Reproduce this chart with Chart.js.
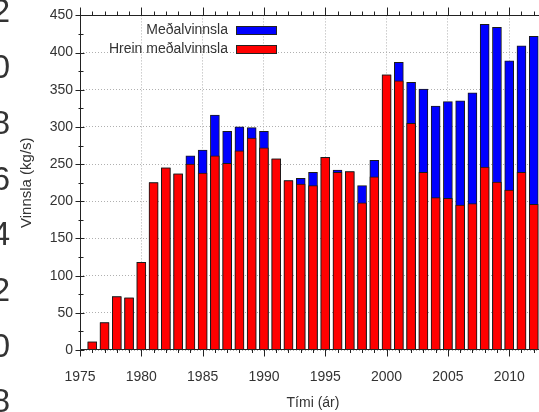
<!DOCTYPE html>
<html>
<head>
<meta charset="utf-8">
<script src="https://cdn.jsdelivr.net/npm/chart.js@4.4.1/dist/chart.umd.min.js"></script>
<style>
  html, body { margin: 0; padding: 0; background: #fff; overflow: hidden; width: 539px; height: 412px; }
  #wrap { position: absolute; left: 0; top: 0; width: 556px; height: 412px; }
  #side { position: absolute; left: 0; top: 0; width: 20px; height: 412px; overflow: hidden; }
  .side-label { position: absolute; left: -90px; width: 100px; text-align: right;
    font: 33px/33px "Liberation Sans", Arial, sans-serif; color: #333; }
</style>
</head>
<body>
<div id="wrap"><canvas id="c" width="556" height="412"></canvas></div>
<div id="side"></div>
<script>
// Years with production data
const years = [1976, 1977, 1978, 1979, 1980, 1981, 1982, 1983, 1984, 1985,
               1986, 1987, 1988, 1989, 1990, 1991, 1992, 1993, 1994, 1995,
               1996, 1997, 1998, 1999, 2000, 2001, 2002, 2003, 2004, 2005,
               2006, 2007, 2008, 2009, 2010, 2011, 2012];

// Meðalvinnsla (kg/s)
const totalFlow = [11, 37, 72, 70, 118, 225, 245, 237, 261, 269,
                   316, 294, 300, 299, 294, 257, 228, 231, 239, 259,
                   242, 240, 221, 255, 370, 387, 360, 351, 328, 334,
                   335, 346, 438, 434, 389, 409, 422];

// Hrein meðalvinnsla (kg/s)
const netFlow = [11, 37, 72, 70, 118, 225, 245, 237, 250, 238,
                 261, 251, 268, 285, 272, 257, 228, 223, 221, 259,
                 239, 240, 198, 233, 370, 362, 305, 239, 205, 204,
                 195, 197, 246, 226, 215, 239, 196];

const seriesNames = ['Meðalvinnsla', 'Hrein meðalvinnsla'];
const xTitle = 'Tími (ár)';
const yTitle = 'Vinnsla (kg/s)';

// Labels of the neighbouring panel's axis, clipped at the left edge
const sideLabels = ['22', '20', '18', '16', '14', '12', '10', '8'];

const FONT = '"Liberation Sans", Arial, Helvetica, sans-serif';
const TEXT = '#333';

const side = document.getElementById('side');
sideLabels.forEach((t, i) => {
  const d = document.createElement('div');
  d.className = 'side-label';
  d.textContent = t;
  d.style.top = (10 + i * 55.7 - 15.6) + 'px';
  side.appendChild(d);
});

// Axis frame, tick marks on every side and the legend
const framePlugin = {
  id: 'frameTicksLegend',
  afterDatasetsDraw(chart) {
    const { ctx, chartArea: a, scales } = chart;
    const L = Math.floor(a.left) + 0.5, R = Math.round(a.right) + 0.5;
    const T = Math.round(a.top) + 0.5, B = Math.round(a.bottom) - 0.5;
    ctx.save();
    ctx.strokeStyle = '#222';
    ctx.lineWidth = 1;
    ctx.beginPath();
    ctx.rect(L, T, R - L, B - T);
    // x ticks: major every 5 years, minor each year
    for (let yr = 1975; yr <= 2013; yr++) {
      const px = Math.round(scales.x.getPixelForValue(yr)) + 0.5;
      const major = yr % 5 === 0;
      const lb = major ? 7 : 3.5, lt = major ? 8 : 4;
      ctx.moveTo(px, B); ctx.lineTo(px, B + lb);
      ctx.moveTo(px, T); ctx.lineTo(px, T - lt);
    }
    // y ticks: major every 50, minor every 25
    for (let v = 0; v <= 450; v += 25) {
      const py = Math.round(scales.y.getPixelForValue(v)) + 0.5;
      const major = v % 50 === 0;
      const out = major ? 5 : 2, inn = major ? 4 : 3;
      ctx.moveTo(L - out, py); ctx.lineTo(L + inn, py);
      ctx.moveTo(R + out, py); ctx.lineTo(R - inn, py);
    }
    ctx.stroke();

    // legend: right-aligned text with a swatch to its right
    const ds = chart.data.datasets;
    const textRight = 228, boxX = 236, boxW = 40, boxH = 8;
    const rows = [30, 49];
    ctx.font = '14px ' + FONT;
    ctx.textAlign = 'right';
    ctx.textBaseline = 'middle';
    ds.forEach((d, i) => {
      const cy = rows[i];
      ctx.fillStyle = TEXT;
      ctx.fillText(d.label, textRight, cy);
      ctx.fillStyle = d.backgroundColor;
      ctx.fillRect(boxX, cy - boxH / 2, boxW, boxH);
      ctx.strokeStyle = '#222';
      ctx.strokeRect(boxX + 0.5, Math.round(cy - boxH / 2) + 0.5, boxW, boxH);
    });
    ctx.restore();
  }
};

const toPoints = vals => years.map((yr, i) => ({ x: yr, y: vals[i] }));

new Chart(document.getElementById('c'), {
  type: 'bar',
  data: {
    datasets: [
      {
        label: seriesNames[0],
        data: toPoints(totalFlow),
        backgroundColor: '#0000ff',
        borderColor: '#1a1a1a',
        borderWidth: 1,
        barThickness: 9,
        grouped: false,
        order: 1
      },
      {
        label: seriesNames[1],
        data: toPoints(netFlow),
        backgroundColor: '#ff0000',
        borderColor: '#1a1a1a',
        borderWidth: 1,
        barThickness: 9,
        grouped: false,
        order: 0
      }
    ]
  },
  options: {
    responsive: false,
    animation: false,
    devicePixelRatio: 1,
    layout: { padding: { left: 0, top: 13.3, right: 10, bottom: 0 } },
    plugins: { legend: { display: false }, tooltip: { enabled: false } },
    scales: {
      x: {
        type: 'linear',
        min: 1975,
        max: 2013,
        offset: false,
        afterFit(s) { s.height = 62; },
        ticks: {
          stepSize: 5, includeBounds: false, autoSkip: false, maxRotation: 0,
          padding: 19, color: TEXT, font: { family: FONT, size: 14 },
          callback: v => String(v)
        },
        grid: { offset: false, color: '#b0b0b0', lineWidth: 1, drawTicks: false },
        border: { display: false, dash: [1, 2] },
        title: { display: true, text: xTitle, color: TEXT, font: { family: FONT, size: 14 }, padding: { top: 0, bottom: 0 } }
      },
      y: {
        min: 0,
        max: 450,
        afterFit(s) { s.width = 80; },
        ticks: { stepSize: 50, padding: 7, color: TEXT, font: { family: FONT, size: 14 } },
        grid: { color: '#b0b0b0', lineWidth: 1, drawTicks: false },
        border: { display: false, dash: [1, 2] },
        title: { display: true, text: yTitle, color: TEXT, font: { family: FONT, size: 15 }, padding: { top: 18, bottom: 0 } }
      }
    }
  },
  plugins: [framePlugin]
});
</script>
</body>
</html>
